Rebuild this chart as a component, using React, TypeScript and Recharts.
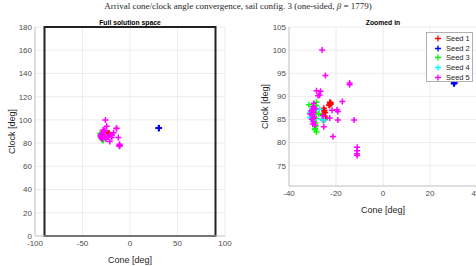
import React from "react";
import {
  ScatterChart,
  Scatter,
  XAxis,
  YAxis,
  CartesianGrid,
  ReferenceArea,
  Legend,
} from "recharts";

// [cone, clock] pairs per seed
const seed1: [number, number][] = [
  [-22.5, 88.5], [-22.8, 88.0], [-22.3, 88.3], [-22.6, 88.7], [-22.9, 88.1], [-22.2, 88.6],
  [-25.2, 87.4], [-25.0, 86.8], [-25.3, 86.3], [-24.9, 85.8], [-25.1, 85.3], [-24.8, 85.0],
  [-25.5, 86.0], [-24.6, 86.5], [-25.0, 87.0], [-24.7, 85.5], [-25.4, 84.8],
];
const seed2: [number, number][] = [
  [30.2, 93.0], [30.4, 92.9], [30.3, 93.2], [30.1, 92.8], [30.5, 93.1], [30.3, 92.7],
];
const seed3: [number, number][] = [
  [-31.5, 88.2], [-28.3, 88.7], [-28.5, 88.0], [-28.3, 87.2], [-28.6, 86.4], [-27.3, 86.2],
  [-28.4, 85.2], [-28.7, 84.3], [-28.5, 83.6], [-28.8, 83.1], [-28.3, 82.3], [-29.0, 82.8],
];
const seed4: [number, number][] = [
  [-30.5, 86.0], [-31.0, 85.5], [-30.8, 86.8], [-29.5, 85.0], [-30.2, 87.3], [-31.2, 86.4],
  [-26.0, 85.0], [-25.0, 84.9], [-27.0, 87.2], [-29.8, 84.6], [-30.6, 85.3],
];
const seed5: [number, number][] = [
  [-25.9, 100.0], [-24.5, 94.5], [-14.2, 92.9], [-14.2, 92.5], [-28.3, 91.2], [-26.6, 91.1],
  [-27.0, 90.3], [-27.6, 90.1], [-17.3, 88.9], [-21.7, 87.0], [-19.6, 87.1], [-19.2, 86.7],
  [-25.6, 85.8], [-22.7, 85.3], [-19.2, 84.9], [-12.3, 84.9], [-21.3, 81.3], [-25.2, 83.4],
  [-11.0, 79.0], [-11.0, 78.2], [-11.1, 77.6], [-11.0, 77.2],
  [-29.5, 88.5], [-29.8, 87.8], [-30.2, 87.0], [-29.5, 86.5], [-30.0, 86.0], [-29.2, 85.5],
  [-30.3, 85.0], [-29.6, 84.5], [-29.9, 84.0], [-29.0, 83.8], [-30.5, 86.8], [-31.0, 86.2],
  [-28.8, 87.3], [-29.4, 87.6], [-29.7, 85.2],
];

const seedNames = ["Seed 1", "Seed 2", "Seed 3", "Seed 4", "Seed 5"];
const seedColors = ["#ff0000", "#0000ff", "#00ff00", "#00ffff", "#ff00ff"];
const seedPoints = [seed1, seed2, seed3, seed4, seed5];

const fullXTicks = [-100, -50, 0, 50, 100];
const fullYTicks = [0, 20, 40, 60, 80, 100, 120, 140, 160, 180];
const zoomXTicks = [-40, -20, 0, 20, 40];
const zoomYTicks = [75, 80, 85, 90, 95, 100, 105];

const FONT = '"Liberation Sans", Arial, sans-serif';
const TICK = { fontSize: 8, fill: "#4d4d4d", fontFamily: FONT };
const AXIS_LINE = "#c8c8c8";
const GRID = "#ececec";

const series = seedNames.map((name, i) => ({
  name,
  color: seedColors[i],
  data: seedPoints[i].map(([cone, clock]) => ({ cone, clock })),
}));

function Plus({ cx, cy, color }: any) {
  if (cx == null || cy == null) return null;
  const r = 3;
  return (
    <path
      d={`M${cx - r},${cy}H${cx + r}M${cx},${cy - r}V${cy + r}`}
      stroke={color}
      strokeWidth={1.5}
      fill="none"
    />
  );
}

function SeedLegend() {
  return (
    <div
      style={{
        width: 47,
        height: 50,
        border: "1px solid #b0b0b0",
        background: "#fff",
        fontFamily: FONT,
        fontSize: 7.5,
        color: "#262626",
        paddingTop: 1,
        boxSizing: "border-box",
        whiteSpace: "nowrap",
      }}
    >
      {series.map((s) => (
        <div key={s.name} style={{ display: "flex", alignItems: "center", height: 9.6 }}>
          <svg width={19} height={9} style={{ flex: "none" }}>
            <path d="M8,4.5H14M11,1.5V7.5" stroke={s.color} strokeWidth={1.3} />
          </svg>
          <span>{s.name}</span>
        </div>
      ))}
    </div>
  );
}

function Panel({ zoomed }: { zoomed: boolean }) {
  const xTicks = zoomed ? zoomXTicks : fullXTicks;
  const yTicks = zoomed ? zoomYTicks : fullYTicks;
  return (
    <ScatterChart
      width={240}
      height={266}
      margin={{ top: 27, right: zoomed ? 3 : 15, bottom: 0, left: 0 }}
    >
      <CartesianGrid stroke={GRID} />
      <XAxis
        type="number"
        dataKey="cone"
        domain={[xTicks[0], xTicks[xTicks.length - 1]]}
        ticks={xTicks}
        height={30}
        stroke={AXIS_LINE}
        tickLine={false}
        tickSize={0}
        tickMargin={4}
        tick={TICK}
        label={{
          value: "Cone [deg]",
          position: "insideBottom",
          offset: 3,
          style: { fontSize: 9, fill: "#262626", fontFamily: FONT },
        }}
      />
      <YAxis
        type="number"
        dataKey="clock"
        domain={zoomed ? [70.6, 105] : [0, 180]}
        ticks={yTicks}
        width={zoomed ? 49 : 35}
        stroke={AXIS_LINE}
        tickLine={false}
        tickSize={0}
        tickMargin={3}
        tick={TICK}
        label={{
          value: "Clock [deg]",
          angle: -90,
          position: "insideLeft",
          offset: zoomed ? 25 : 12,
          style: { fontSize: 9, fill: "#262626", fontFamily: FONT, textAnchor: "middle" },
        }}
      />
      {!zoomed && (
        <ReferenceArea
          x1={-90}
          x2={90}
          y1={0}
          y2={180}
          fill="none"
          fillOpacity={0}
          stroke="#222"
          strokeWidth={2}
        />
      )}
      {series.map((s) => (
        <Scatter
          key={s.name}
          name={s.name}
          data={s.data}
          isAnimationActive={false}
          shape={(p: any) => <Plus {...p} color={s.color} />}
        />
      ))}
      {zoomed && (
        <Legend
          content={<SeedLegend />}
          wrapperStyle={{ left: 186, top: 32, width: 47, bottom: "auto" }}
        />
      )}
    </ScatterChart>
  );
}

const titleStyle: React.CSSProperties = {
  position: "absolute",
  fontFamily: FONT,
  fontWeight: "bold",
  fontSize: 6.8,
  color: "#000",
  textAlign: "center",
  lineHeight: "8px",
};

export default function App() {
  return (
    <div
      style={{
        position: "fixed",
        left: 0,
        top: 0,
        width: 476,
        height: 266,
        overflow: "hidden",
        background: "#fff",
      }}
    >
      <div
        style={{
          position: "absolute",
          left: 0,
          top: 1,
          width: 476,
          textAlign: "center",
          fontFamily: '"Liberation Serif", "Times New Roman", serif',
          fontSize: 9,
          lineHeight: "11px",
          color: "#262626",
        }}
      >
        Arrival cone/clock angle convergence, sail config. 3 (one-sided, <i>β</i> = 1779)
      </div>
      <div style={{ position: "absolute", left: 0, top: 0 }}>
        <Panel zoomed={false} />
      </div>
      <div style={{ position: "absolute", left: 240, top: 0 }}>
        <Panel zoomed={true} />
      </div>
      <div style={{ ...titleStyle, left: 35, width: 190, top: 19 }}>Full solution space</div>
      <div style={{ ...titleStyle, left: 289, width: 188, top: 19 }}>Zoomed in</div>
    </div>
  );
}
